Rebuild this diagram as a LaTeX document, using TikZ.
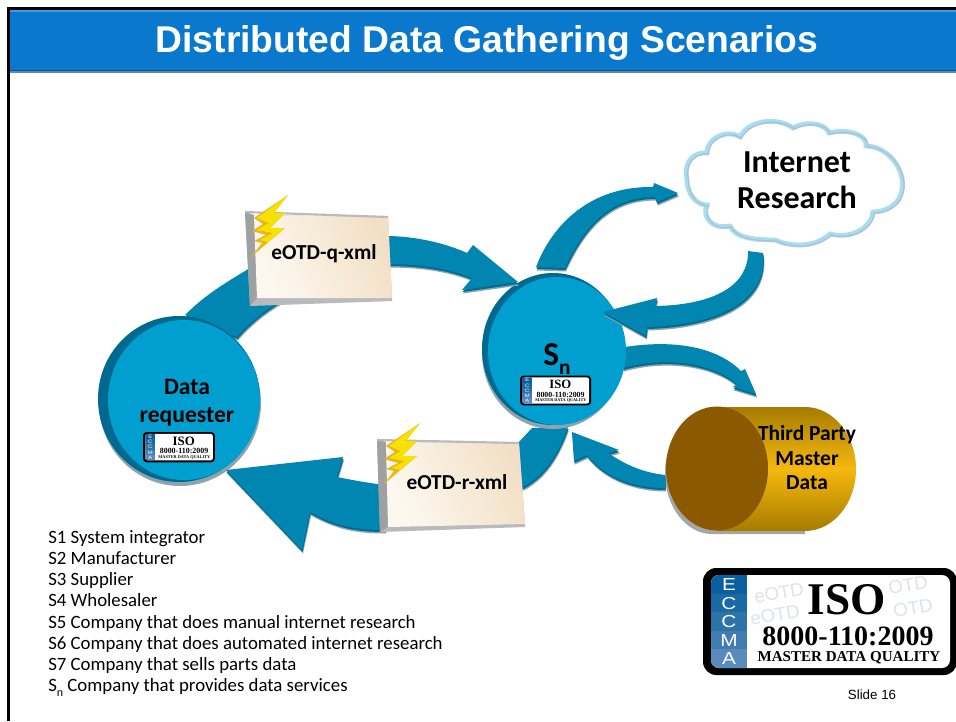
\documentclass[tikz,border=0pt]{standalone}
\usepackage{fontspec}
\setmainfont{Carlito}
\newfontfamily\arialf{Liberation Sans}
\newfontfamily\timesf{Liberation Serif}
\usetikzlibrary{shapes.geometric}
\definecolor{hdr}{HTML}{0A78CC}
\definecolor{hdrtop}{HTML}{3C9CE8}
\definecolor{hdrbot}{HTML}{5D8AA8}
\definecolor{circmain}{HTML}{009FD0}
\definecolor{circdark}{HTML}{00698F}
\definecolor{arrmain}{HTML}{0086B0}
\definecolor{arrdark}{HTML}{006C90}
\definecolor{arrgray}{HTML}{8FA3AD}
\definecolor{boxl}{HTML}{FCF8F0}
\definecolor{boxr}{HTML}{F2E0C6}
\definecolor{boxedge}{HTML}{B8BABC}
\definecolor{boxside}{HTML}{9EA0A2}
\definecolor{boltY}{HTML}{F6E200}
\definecolor{boltO}{HTML}{E9B51E}
\definecolor{cylface}{HTML}{8B5A00}
\definecolor{cylD}{HTML}{A67C00}
\definecolor{cylM}{HTML}{F6B80E}
\definecolor{cloudB}{HTML}{A5DDF5}
\definecolor{cloudG}{HTML}{B4BEC4}
\definecolor{wmB}{HTML}{D5E5F2}
\definecolor{wmG}{HTML}{E2E2E2}
\tikzset{
  x=0.75pt,y=-0.75pt,
  lbl/.style={font=\bfseries,text=black,inner sep=0pt,align=center},
  item/.style={anchor=base west,inner sep=0pt,font=\fontsize{14.1pt}{16pt}\selectfont},
  wm/.style={font=\arialf\fontsize{14pt}{14pt}\selectfont,inner sep=0pt,rotate=10},
}
\newcommand{\blockarrow}[1]{%
  \fill[arrgray,shift={(1,3.5)}] #1;
  \fill[arrdark,shift={(0.5,2)}] #1;
  \fill[arrmain] #1;}
\newcommand{\msgbox}[7]{% outer tl, front tl, front tr, front br, front bl, outer bl, outer br
  \fill[boxedge] #1 -- #2 -- #3 -- #4 -- #7 -- #6 -- cycle;
  \fill[boxside] #1 -- #2 -- #5 -- #6 -- cycle;
  \shade[left color=boxl,right color=boxr,shading angle=115] #2 -- #3 -- #4 -- #5 -- cycle;
  \draw[boxedge,line width=1.6pt] #1 -- #3;
}
\newcommand{\bolt}[2]{%
  \begin{scope}[shift={(#1,#2)}]
  \fill[boltO] (0,0) -- (-34,23) -- (-25,29) -- (-36,36) -- (-22,40) -- (-34,46) -- (-26,48) -- (-37,62) -- (-3,33) -- (-18,33) -- (-3,18) -- (-14,18) -- cycle;
  \fill[boltY] (0,0) -- (-31,23) -- (-19,28) -- (-31,35) -- (-15,38) -- (-28,45) -- (-20,47) -- (-33,58) -- (-3,33) -- (-18,33) -- (-3,18) -- (-14,18) -- cycle;
  \end{scope}}
% #1 name prefix, #2 x, #3 y, #4 scale, #5 watermark
\newcommand{\isologo}[5]{%
  \begin{scope}[shift={(#2,#3)},scale=#4,transform shape]
  \fill[black,rounded corners={#4*10pt}] (0,0) rectangle (254,107);
  \fill[white,rounded corners={#4*6pt}] (8,7) rectangle (247,100);
  #5
  \begin{scope}
    \clip[rounded corners={#4*6pt}] (8,7) rectangle (247,100);
    \fill[fill={rgb,255:red,10;green,95;blue,160}] (8,7) rectangle (44,26);
    \fill[fill={rgb,255:red,25;green,105;blue,165}] (8,26) rectangle (44,44);
    \fill[fill={rgb,255:red,45;green,115;blue,170}] (8,44) rectangle (44,63);
    \fill[fill={rgb,255:red,65;green,125;blue,178}] (8,63) rectangle (44,81);
    \fill[fill={rgb,255:red,88;green,138;blue,188}] (8,81) rectangle (44,100);
  \end{scope}
  \foreach \l/\yy [count=\i] in {E/17,C/35.5,C/54,M/72.5,A/90.5}
    \node[text=white,inner sep=0pt,xscale=1.2,font=\arialf\fontsize{13pt}{13pt}\selectfont] (#1e\i) at (26,\yy) {\l};
  \node[inner sep=0pt,font=\timesf\bfseries\fontsize{34pt}{34pt}\selectfont] (#1iso) at (144,32) {ISO};
  \node[inner sep=0pt,font=\timesf\bfseries\fontsize{21pt}{21pt}\selectfont] (#1num) at (145,68) {8000-110:2009};
  \node[inner sep=0pt,font=\timesf\bfseries\fontsize{11.3pt}{12pt}\selectfont] (#1mdq) at (146,90) {MASTER DATA QUALITY};
  \end{scope}}
\begin{document}
\begin{tikzpicture}
\useasboundingbox (0,0) rectangle (956,721);
\fill[white] (0,0) rectangle (956,721);
% slide header
\fill[black] (7,7) rectangle (956,9.5);
\fill[black] (7,7) rectangle (9.5,721);
\fill[hdr] (9.5,9.5) rectangle (956,70);
\fill[hdrtop] (9.5,9.5) rectangle (956,12);
\fill[hdr!70!black] (9.5,69.5) rectangle (956,70.5);
\fill[hdrbot] (9.5,70.5) rectangle (956,72.5);
\node[inner sep=0pt,text=white,font=\arialf\bfseries\fontsize{27.95pt}{30pt}\selectfont] (title) at (487,43) {Distributed Data Gathering Scenarios};
% cloud
\def\cloudpath{(687,180) .. controls (683,160) and (695,152) .. (707,153)
 .. controls (706,140) and (725,128) .. (740,137)
 .. controls (750,118) and (780,118) .. (793,128)
 .. controls (808,120) and (826,124) .. (829,133)
 .. controls (850,128) and (868,136) .. (866,146)
 .. controls (888,146) and (906,170) .. (902,190)
 .. controls (900,205) and (885,212) .. (873,212)
 .. controls (872,225) and (855,240) .. (830,234)
 .. controls (815,248) and (790,247) .. (775,240)
 .. controls (755,240) and (735,238) .. (730,226)
 .. controls (710,230) and (702,215) .. (707,205)
 .. controls (695,205) and (687,192) .. (687,180) -- cycle}
\fill[white,draw=cloudB,line width=3.6pt] \cloudpath;
\draw[cloudG,line width=0.9pt,shift={(1.5,1)}] \cloudpath;
\node[lbl,font=\bfseries\fontsize{24pt}{27pt}\selectfont] (internet) at (797,180) {Internet\\Research};
% cylinder
\fill[gray!70] (712,412) -- (805,412) -- (805,534) -- (712,534) arc[start angle=90,end angle=270,x radius=47,y radius=61] -- cycle;
\shade[top color=cylD,bottom color=cylD,middle color=cylM]
  (717,407) -- (805,407) arc[start angle=-90,end angle=90,x radius=51,y radius=62] -- (717,531) -- cycle;
\fill[cylface] (717,468.5) ellipse [x radius=51,y radius=62];
\node[lbl,font=\bfseries\fontsize{16.1pt}{18.4pt}\selectfont] (third) at (807,458) {Third Party\\Master\\Data};
% block arrows beneath the circles
\blockarrow{(185,315) .. controls (205,295) and (225,283) .. (250,268) -- (282,300) .. controls (265,310) and (250,322) .. (237,337) -- cycle}
\blockarrow{(536,267) .. controls (552,225) and (590,186) .. (653,187) -- (654,183) -- (678,193) -- (657,202) -- (655,197) .. controls (610,197) and (585,225) .. (565,268) -- cycle}
\blockarrow{(625,347) .. controls (670,340) and (715,345) .. (741,371) -- (745,369) -- (756,394) -- (733,387) -- (737,384) .. controls (715,365) and (670,355) .. (623,368) -- cycle}
\blockarrow{(665,475) .. controls (640,472) and (625,464) .. (608,453) -- (619,450) -- (572,432) -- (574,461) -- (587,455) .. controls (605,478) and (635,488) .. (665,488) -- cycle}
\blockarrow{(532,428) -- (568,427) .. controls (558,455) and (545,475) .. (523,487) -- (505,480) -- (518,443) -- cycle}
% circles
\fill[arrgray] (180,403) ellipse [x radius=81,y radius=83];
\fill[circdark] (179,399) ellipse [x radius=81,y radius=83];
\fill[circmain] (184,400) ellipse [x radius=76,y radius=80];
\fill[arrgray] (553,353) ellipse [x radius=71,y radius=76];
\fill[circdark] (553,349) ellipse [x radius=71,y radius=76];
\fill[circmain] (557,351) ellipse [x radius=69,y radius=74];
% block arrows over the circles
\blockarrow{(385,236) .. controls (415,236) and (445,243) .. (467,253) -- (473,245) -- (518,282) -- (462,290) -- (472,278) .. controls (445,267) and (415,264) .. (385,264) -- cycle}
\blockarrow{(748,251) .. controls (749,285) and (715,305) .. (655,306) -- (657,298) -- (603,312) -- (646,336) -- (647,327) .. controls (720,325) and (768,300) .. (763,253) -- cycle}
\blockarrow{(385,485) .. controls (368,483) and (352,480) .. (337,477) -- (343,457) -- (226,470) -- (302,550) -- (310,512) .. controls (335,526) and (355,530) .. (385,530) -- cycle}
\node[lbl,font=\bfseries\fontsize{17.7pt}{21pt}\selectfont] (data) at (187,403) {Data\\requester};
\node[lbl,font=\bfseries\fontsize{25pt}{26pt}\selectfont] (sn) at (557,359) {S\raisebox{-0.25em}{\fontsize{16pt}{16pt}\selectfont n}};
\isologo{a}{143}{432}{0.283}{}
\isologo{b}{520}{375.5}{0.28}{}
\isologo{c}{703}{568}{1}{%
  \node[wm,text=wmG] (w1) at (76,25) {eOTD};
  \node[wm,text=wmB] (w2) at (72,47) {eOTD};
  \node[wm,text=wmG] (w3) at (205,17) {OTD};
  \node[wm,text=wmB] (w4) at (210,40) {OTD};
}
% message boxes
\msgbox{(245,212)}{(254,215)}{(388,217)}{(392,298)}{(257,298)}{(250,306)}{(392,301)}
\node[lbl,font=\bfseries\fontsize{16pt}{19pt}\selectfont] (qx) at (324,254) {eOTD-q-xml};
\bolt{288}{195}
\msgbox{(377,440)}{(386,442)}{(519,443)}{(525,524)}{(388,527)}{(380,532)}{(525,527)}
\node[lbl,font=\bfseries\fontsize{16pt}{19pt}\selectfont] (rx) at (457,482) {eOTD-r-xml};
\bolt{420}{423}
% list
\node[item] (s1) at (48,543) {S1 System integrator};
\node[item] (s2) at (48,564) {S2 Manufacturer};
\node[item] (s3) at (48,585) {S3 Supplier};
\node[item] (s4) at (48,606) {S4 Wholesaler};
\node[item] (s5) at (48,628) {S5 Company that does manual internet research};
\node[item] (s6) at (48,649) {S6 Company that does automated internet research};
\node[item] (s7) at (48,670) {S7 Company that sells parts data};
\node[item] (s8) at (48,691) {S\raisebox{-0.3em}{\fontsize{9pt}{9pt}\selectfont n} Company that provides data services};
\node[inner sep=0pt,font=\arialf\fontsize{10pt}{11pt}\selectfont] (slide) at (872,695) {Slide 16};
\end{tikzpicture}
\end{document}
